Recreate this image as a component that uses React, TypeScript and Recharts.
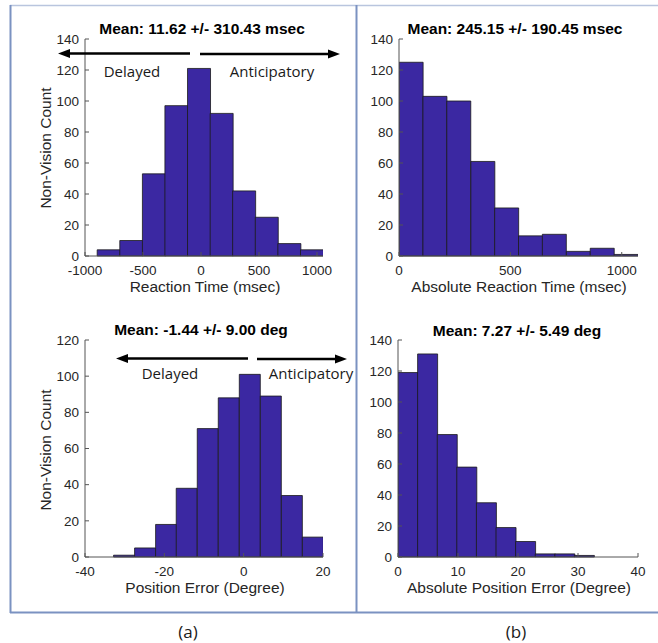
import React from 'react';
import { BarChart, Bar, XAxis, YAxis } from 'recharts';

// (a) top: reaction time histogram
const rtCenters = [-798, -603, -408, -214, -19, 176, 370, 565, 760, 955];
const rtCounts = [4, 10, 53, 97, 121, 92, 42, 25, 8, 4];
const rtTicks = [-1000, -500, 0, 500, 1000];

// (b) top: absolute reaction time
const absRtCenters = [54, 161, 268, 376, 483, 590, 697, 805, 912, 1020];
const absRtCounts = [125, 103, 100, 61, 31, 13, 14, 3, 5, 1];
const absRtTicks = [0, 500, 1000];

// (a) bottom: position error
const peCenters = [-30.2, -24.9, -19.6, -14.4, -9.1, -3.8, 1.5, 6.8, 12.1, 17.4];
const peCounts = [1, 5, 18, 38, 71, 88, 101, 89, 34, 11];
const peTicks = [-40, -20, 0, 20];

// (b) bottom: absolute position error
const absPeCenters = [1.63, 4.9, 8.17, 11.43, 14.7, 17.97, 21.23, 24.5, 27.77, 31.03];
const absPeCounts = [119, 131, 79, 58, 35, 19, 10, 2, 2, 1];
const absPeTicks = [0, 10, 20, 30, 40];

const countTicks140 = [0, 20, 40, 60, 80, 100, 120, 140];
const countTicks120 = [0, 20, 40, 60, 80, 100, 120];

const BAR = '#3b28a2';
const AXIS = '#555555';
const TEXT = '#262626';
const FRAME = '#7b92c1';

const toRows = (centers: number[], counts: number[]) =>
  centers.map((x, i) => ({ x, count: counts[i] }));

interface PanelProps {
  left: number;
  top: number;
  width: number;
  height: number;
  rows: { x: number; count: number }[];
  xDomain: [number, number];
  xTicks: number[];
  yDomain: [number, number];
  yTicks: number[];
}

const tickStyle = { fontSize: 13.5, fill: TEXT };

const Panel: React.FC<PanelProps> = ({ left, top, width, height, rows, xDomain, xTicks, yDomain, yTicks }) => (
  <div style={{ position: 'absolute', left: left - 50, top: top - 10 }}>
    <BarChart
      width={width + 60}
      height={height + 40}
      data={rows}
      margin={{ top: 10, right: 10, left: 10, bottom: 5 }}
      barCategoryGap={0}
      barGap={0}
    >
      <XAxis
        dataKey="x"
        type="number"
        domain={xDomain}
        ticks={xTicks}
        allowDataOverflow
        height={25}
        tickSize={-4}
        tickMargin={13}
        tick={tickStyle}
        stroke={AXIS}
        interval={0}
      />
      <XAxis
        xAxisId="top"
        orientation="top"
        type="number"
        domain={xDomain}
        ticks={xTicks}
        allowDataOverflow
        height={0}
        tickSize={-4}
        tick={() => <g />}
        stroke={AXIS}
        interval={0}
      />
      <YAxis
        type="number"
        domain={yDomain}
        ticks={yTicks}
        width={40}
        tickSize={-4}
        tickMargin={10}
        tick={tickStyle}
        stroke={AXIS}
        interval={0}
      />
      <YAxis
        yAxisId="right"
        orientation="right"
        type="number"
        domain={yDomain}
        ticks={yTicks}
        width={0}
        tickSize={-4}
        tick={() => <g />}
        stroke={AXIS}
        interval={0}
      />
      <Bar dataKey="count" fill={BAR} stroke="#1a1a1a" strokeWidth={0.8} isAnimationActive={false} />
    </BarChart>
  </div>
);

const Arrow = ({ x1, x2, y }: { x1: number; x2: number; y: number }) => {
  const dir = x2 > x1 ? 1 : -1;
  return (
    <g>
      <line x1={x1} y1={y} x2={x2 - dir * 9} y2={y} stroke="#000" strokeWidth={2.5} />
      <polygon points={`${x2},${y} ${x2 - dir * 12},${y - 4.5} ${x2 - dir * 12},${y + 4.5}`} fill="#000" />
    </g>
  );
};

const title = { fontSize: 15.5, fontWeight: 700, fill: '#000', textAnchor: 'middle' as const };
const axisLabel = { fontSize: 15.5, fill: TEXT, textAnchor: 'middle' as const };
const note = { fontFamily: '"Open Sans", sans-serif', fontSize: 15, fill: '#1a1a1a', textAnchor: 'middle' as const };

export default function App() {
  return (
    <div
      style={{
        position: 'absolute',
        left: 0,
        top: 0,
        width: 658,
        height: 643,
        background: '#fff',
        fontFamily: '"Liberation Sans", Arial, sans-serif',
      }}
    >
      <Panel left={85} top={39} width={238} height={217} rows={toRows(rtCenters, rtCounts)}
        xDomain={[-1000, 1052]} xTicks={rtTicks} yDomain={[0, 140]} yTicks={countTicks140} />
      <Panel left={399} top={39} width={239} height={217} rows={toRows(absRtCenters, absRtCounts)}
        xDomain={[0, 1073]} xTicks={absRtTicks} yDomain={[0, 140]} yTicks={countTicks140} />
      <Panel left={85} top={340} width={238} height={217} rows={toRows(peCenters, peCounts)}
        xDomain={[-40, 20]} xTicks={peTicks} yDomain={[0, 120]} yTicks={countTicks120} />
      <Panel left={398} top={340} width={240} height={217} rows={toRows(absPeCenters, absPeCounts)}
        xDomain={[0, 40]} xTicks={absPeTicks} yDomain={[0, 140]} yTicks={countTicks140} />

      <svg width={658} height={643} style={{ position: 'absolute', left: 0, top: 0, pointerEvents: 'none' }}>
        {/* figure frame */}
        <line x1={10} y1={5.5} x2={658} y2={5.5} stroke="#b9c5de" strokeWidth={1.5} />
        <line x1={10.5} y1={5} x2={10.5} y2={613} stroke={FRAME} strokeWidth={2} />
        <line x1={356.5} y1={5} x2={356.5} y2={613} stroke={FRAME} strokeWidth={2} />
        <line x1={10} y1={612.5} x2={658} y2={612.5} stroke={FRAME} strokeWidth={2} />

        <text x={202} y={34} style={title}>Mean: 11.62 +/- 310.43 msec</text>
        <text x={515} y={34} style={title}>Mean: 245.15 +/- 190.45 msec</text>
        <text x={201} y={335} style={title}>Mean: -1.44 +/- 9.00 deg</text>
        <text x={517} y={336} style={title}>Mean: 7.27 +/- 5.49 deg</text>

        <text x={205} y={292} style={axisLabel}>Reaction Time (msec)</text>
        <text x={519} y={292} style={axisLabel}>Absolute Reaction Time (msec)</text>
        <text x={205} y={593} style={axisLabel}>Position Error (Degree)</text>
        <text x={519} y={593} style={axisLabel}>Absolute Position Error (Degree)</text>
        <text x={50.5} y={148} transform="rotate(-90 50.5 148)" style={axisLabel}>Non-Vision Count</text>
        <text x={50.5} y={450} transform="rotate(-90 50.5 450)" style={axisLabel}>Non-Vision Count</text>

        <Arrow x1={190} x2={58} y={53.5} />
        <Arrow x1={200} x2={340} y={54} />
        <text x={132} y={77} style={note}>Delayed</text>
        <text x={272} y={77} style={note}>Anticipatory</text>

        <Arrow x1={248} x2={116} y={358.5} />
        <Arrow x1={257} x2={347} y={359} />
        <text x={170} y={379} style={note}>Delayed</text>
        <text x={311} y={379} style={note}>Anticipatory</text>

        <text x={188} y={638} style={{ ...note, fontSize: 17 }}>(a)</text>
        <text x={516} y={638} style={{ ...note, fontSize: 17 }}>(b)</text>
      </svg>
    </div>
  );
}
